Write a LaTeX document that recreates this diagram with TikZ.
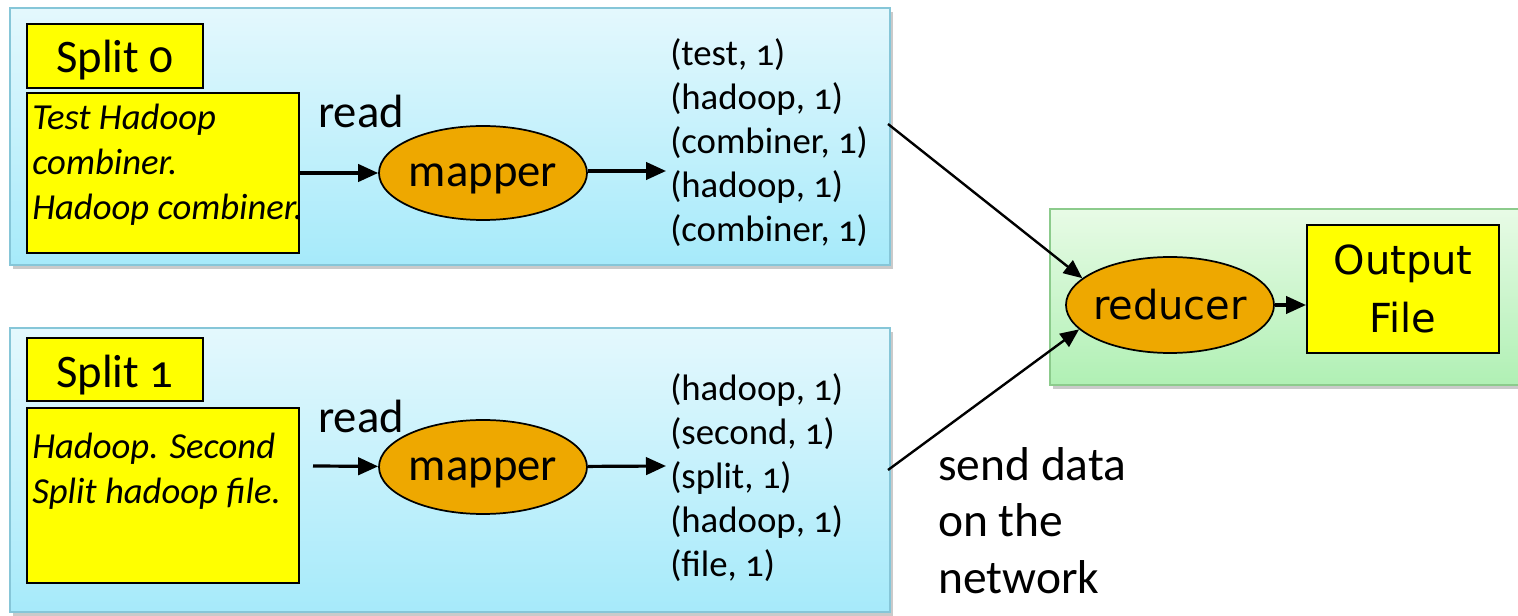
\documentclass[tikz,border=0pt]{standalone}
\usepackage{fontspec}
\setmainfont{Carlito}[Numbers=OldStyle]
\newfontfamily\dvs{DejaVu Sans}
\usetikzlibrary{shapes.geometric,arrows.meta,shadows,positioning}
\definecolor{ybox}{HTML}{FFFF00}
\definecolor{orng}{HTML}{EEA800}
\definecolor{bluetop}{HTML}{E4F8FD}
\definecolor{bluebot}{HTML}{A6EAFA}
\definecolor{blueedge}{HTML}{86C6D8}
\definecolor{greentop}{HTML}{E8FBE6}
\definecolor{greenbot}{HTML}{B0F0B4}
\definecolor{greenedge}{HTML}{8CCB8C}
\tikzset{
  panelblue/.style={draw=blueedge, line width=1.2pt, top color=bluetop, bottom color=bluebot, inner sep=0pt,
     drop shadow={shadow xshift=2pt, shadow yshift=-3pt, opacity=0.35, fill=black!60}},
  panelgreen/.style={draw=greenedge, line width=1.2pt, top color=greentop, bottom color=greenbot, inner sep=0pt,
     drop shadow={shadow xshift=2pt, shadow yshift=-3pt, opacity=0.35, fill=black!60}},
  yb/.style={draw=black, line width=1.5pt, fill=ybox, inner sep=0pt},
  oval/.style={ellipse, draw=black, line width=1.3pt, fill=orng, inner sep=0pt, minimum width=156pt, minimum height=70.5pt},
  txt/.style={inner sep=0pt, anchor=base west},
  arr/.style={line width=2.4pt, -{Triangle[length=15pt,width=13pt]}},
  net/.style={line width=1.8pt, -{Triangle[length=14pt,width=12pt]}},
  listf/.style={font=\fontsize{27.6}{33}\selectfont},
  bigf/.style={font=\fontsize{35}{41}\selectfont},
  itf/.style={font=\fontsize{27.5}{33.75}\selectfont\itshape, align=left},
  dvf/.style={font=\dvs\fontsize{30}{43}\selectfont}
}
\begin{document}
\begin{tikzpicture}[x=0.75pt,y=-0.75pt]
\useasboundingbox (0,0) rectangle (1518,616);
% panels
\node[panelblue, minimum width=660pt, minimum height=192.75pt] (pan0) at (450,136.5) {};
\node[panelblue, minimum width=660pt, minimum height=213pt] (pan1) at (450,470) {};
\node[panelgreen, minimum width=352.5pt, minimum height=132pt] (pan2) at (1285,297) {};
% top row
\node[yb, minimum width=132pt, minimum height=48pt] (sp0) at (115,56) {};
\node[txt, bigf, anchor=base] (st0) at (115,73) {Split 0};
\node[yb, minimum width=204pt, minimum height=120pt] (tb0) at (163,173) {};
\node[txt, itf, anchor=north west] (tt0) at (32,104) {Test Hadoop\\combiner.\\Hadoop combiner.};
\node[txt, bigf] (rd0) at (318,128) {read};
\node[oval] (map0) at (483,173) {};
\node[txt, bigf, anchor=base] (mt0) at (483,187) {mapper};
\node[txt, listf, anchor=north west, align=left] (ls0) at (670,38) {(test, 1)\\(hadoop, 1)\\(combiner, 1)\\(hadoop, 1)\\(combiner, 1)};
\coordinate (o0) at (666,171);
\coordinate (n0) at (888,124);
% bottom row
\node[yb, minimum width=132pt, minimum height=47.25pt] (sp1) at (115,369.5) {};
\node[txt, bigf, anchor=base] (st1) at (115,388) {Split 1};
\node[yb, minimum width=204pt, minimum height=131.25pt] (tb1) at (163,495.5) {};
\node[txt, itf, anchor=north west] (tt1) at (32,433) {Hadoop. Second\\Split hadoop file.};
\node[txt, bigf] (rd1) at (318,433) {read};
\node[oval] (map1) at (483,467) {};
\node[txt, bigf, anchor=base] (mt1) at (483,481) {mapper};
\node[txt, listf, anchor=north west, align=left] (ls1) at (670,373) {(hadoop, 1)\\(second, 1)\\(split, 1)\\(hadoop, 1)\\(file, 1)};
\coordinate (i1) at (313,466);
\coordinate (o1) at (666,466);
\coordinate (n1) at (888,470);
\node[txt, anchor=north west, align=left, font=\fontsize{35.6}{42.5}\selectfont] (send) at (938,447) {send data\\on the\\network};
% reducer
\node[oval, minimum height=72pt] (red) at (1170,305) {};
\node[txt, dvf, anchor=base] (rt) at (1170,320) {reducer};
\node[yb, minimum width=144pt, minimum height=96pt, dvf, align=center] (out) at (1403,289) {Output\\File};
% connectors
\draw[arr] (tb0.east |- map0) -- (map0);
\draw[arr] (map0.east |- o0) -- (o0);
\draw[arr] (i1) -- (map1);
\draw[arr] (map1) -- (o1);
\draw[net] (n0) -- (red.163);
\draw[net] (n1) -- (red.195);
\draw[arr] (red.east) -- (red.east -| out.west);
\end{tikzpicture}
\end{document}
